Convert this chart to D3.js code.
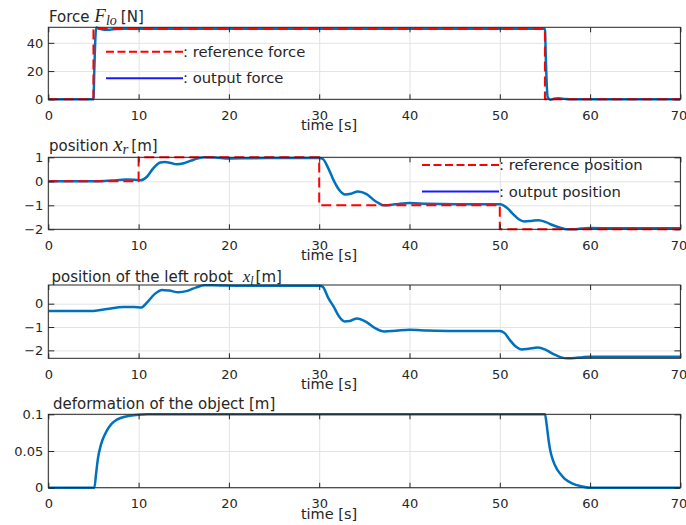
<!DOCTYPE html>
<html>
<head>
<meta charset="utf-8">
<script src="https://cdn.jsdelivr.net/npm/d3@7"></script>
<style>
  body { margin: 0; background: #fff; }
  text { font-family: "DejaVu Sans", sans-serif; fill: #262626; }
  .math { font-family: "Liberation Serif", serif; font-style: italic; }
</style>
</head>
<body>
<svg id="chart" width="686" height="525"></svg>
<script>
const timeTicks = [0, 10, 20, 30, 40, 50, 60, 70];

const forceTicks = [0, 20, 40];
const forceRefTime = [0, 5, 5, 55, 55, 70];
const forceRefValue = [0, 0, 50, 50, 0, 0];
const forceOutTime = [0, 5, 5.1, 5.3, 5.6, 6.2, 6.8, 7.5, 8.5, 55, 55.1, 55.3, 55.6, 56, 56.5, 57.2, 58, 70];
const forceOutValue = [0, 0, 22, 50.8, 50.2, 49.2, 49.3, 49.8, 50, 50, 28, 1.5, -0.3, 0.4, 0.7, 0.3, 0, 0];

const posTicks = [-2, -1, 0, 1];
const posRefTime = [0, 10, 10, 30, 30, 50, 50, 70];
const posRefValue = [0, 0, 1, 1, -1, -1, -2, -2];
const posOutTime = [0, 5.4, 7, 8.6, 9.5, 10.2, 10.9, 11.6, 12.4, 12.9, 13.6, 14.2, 15, 15.8, 16.6, 17.3, 18.5, 20, 22, 24, 30, 30.4, 31, 31.6, 32.2, 32.9, 33.5, 34.3, 35.2, 36.2, 37.2, 38.4, 40, 42, 45, 50, 50.4, 50.9, 51.5, 52.1, 52.7, 53.5, 54.3, 55.1, 55.9, 56.7, 57.4, 58.1, 59, 60, 63, 70];
const posOutValue = [0, 0, 0.03, 0.07, 0.06, 0.04, 0.18, 0.53, 0.78, 0.8, 0.76, 0.71, 0.75, 0.86, 0.96, 1.0, 0.99, 0.95, 0.96, 0.97, 0.97, 0.93, 0.55, 0.04, -0.35, -0.55, -0.52, -0.42, -0.52, -0.82, -1.0, -0.96, -0.9, -0.94, -0.96, -0.96, -1.0, -1.14, -1.38, -1.58, -1.67, -1.65, -1.62, -1.7, -1.83, -1.93, -2.0, -2.0, -1.97, -1.95, -1.96, -1.96];

const leftTicks = [-2, -1, 0];
const leftTime = [0, 5, 6.5, 8.3, 9.5, 10.3, 11, 11.8, 12.6, 13.4, 14.4, 15.4, 16.4, 17.3, 19, 21, 30, 30.4, 31, 31.6, 32.2, 32.8, 33.4, 34.2, 35.2, 36.2, 37.2, 38.5, 40, 42, 45, 50, 50.5, 51.1, 51.8, 52.4, 53.2, 54.2, 55.1, 56, 56.8, 57.5, 58.3, 59.2, 60, 63, 70];
const leftValue = [-0.31, -0.31, -0.23, -0.14, -0.14, -0.16, 0.08, 0.42, 0.59, 0.56, 0.49, 0.55, 0.7, 0.79, 0.78, 0.77, 0.77, 0.72, 0.25, -0.13, -0.55, -0.76, -0.74, -0.63, -0.78, -1.05, -1.19, -1.16, -1.12, -1.15, -1.17, -1.17, -1.25, -1.55, -1.85, -1.96, -1.93, -1.88, -1.98, -2.17, -2.3, -2.34, -2.33, -2.29, -2.27, -2.27, -2.27];

const deformTicks = [0, 0.05, 0.1];
const deformTime = [0, 5.1, 5.3, 5.5, 5.75, 6, 6.5, 7, 7.5, 8, 9, 10, 11, 55, 55.2, 55.4, 55.6, 55.9, 56.3, 56.7, 57.2, 58, 59, 60, 70];
const deformValue = [0, 0, 0.02, 0.04, 0.055, 0.065, 0.078, 0.087, 0.092, 0.095, 0.098, 0.0995, 0.1, 0.1, 0.085, 0.065, 0.05, 0.037, 0.026, 0.019, 0.012, 0.006, 0.002, 0, 0];

const svg = d3.select("#chart");
const left = 48.3, right = 680.4;
const blue = "#0072bd";

const x = d3.scaleLinear().domain([0, 70]).range([left, right]);

function zip(ts, vs) {
  return ts.map((t, i) => [t, vs[i]]);
}

function panel(id, top, bottom, yDomain, yTicks, yFmt) {
  const y = d3.scaleLinear().domain(yDomain).range([bottom, top]);
  const g = svg.append("g");
  const h = bottom - top;

  // grid
  g.append("g")
    .attr("transform", `translate(0,${bottom})`)
    .call(d3.axisBottom(x).tickValues(timeTicks).tickSize(-h).tickFormat(""))
    .call(a => a.select(".domain").remove())
    .call(a => a.selectAll("line").attr("stroke", "#e3e3e3"));
  g.append("g")
    .attr("transform", `translate(${left},0)`)
    .call(d3.axisLeft(y).tickValues(yTicks).tickSize(-(right - left)).tickFormat(""))
    .call(a => a.select(".domain").remove())
    .call(a => a.selectAll("line").attr("stroke", "#e3e3e3"));

  svg.append("clipPath").attr("id", id)
    .append("rect").attr("x", left).attr("y", top - 2)
    .attr("width", right - left).attr("height", h + 4);

  const plot = g.append("g").attr("clip-path", `url(#${id})`);

  // ticks + box
  const axes = g.append("g").attr("class", "axes");
  axes.append("g").attr("transform", `translate(0,${bottom})`)
    .call(d3.axisBottom(x).tickValues(timeTicks).tickSize(-5).tickPadding(11))
    .call(a => a.select(".domain").remove())
    .call(a => a.selectAll("text").filter(d => d === 70).attr("dx", -2));
  axes.append("g").attr("transform", `translate(0,${top})`)
    .call(d3.axisTop(x).tickValues(timeTicks).tickSize(-5).tickFormat(""))
    .call(a => a.select(".domain").remove());
  axes.append("g").attr("transform", `translate(${left},0)`)
    .call(d3.axisLeft(y).tickValues(yTicks).tickSize(-6).tickPadding(5).tickFormat(yFmt))
    .call(a => a.select(".domain").remove());
  axes.append("g").attr("transform", `translate(${right},0)`)
    .call(d3.axisRight(y).tickValues(yTicks).tickSize(-6).tickFormat(""))
    .call(a => a.select(".domain").remove());
  axes.selectAll("line").attr("stroke", "#262626");
  axes.selectAll("text").attr("font-size", 13).attr("font-family", "DejaVu Sans").attr("fill", "#262626");
  axes.append("rect")
    .attr("x", left).attr("y", top)
    .attr("width", right - left).attr("height", h)
    .attr("fill", "none").attr("stroke", "#262626").attr("stroke-width", 1);

  g.append("text")
    .attr("x", 329).attr("y", bottom + 31)
    .attr("text-anchor", "middle").attr("font-size", 14.5)
    .text("time [s]");

  return { g, plot, y };
}

function drawLine(p, pts, color, width, dash, curve) {
  const line = d3.line().x(d => x(d[0])).y(d => p.y(d[1])).curve(curve);
  p.plot.append("path")
    .attr("d", line(pts))
    .attr("fill", "none")
    .attr("stroke", color)
    .attr("stroke-width", width)
    .attr("stroke-dasharray", dash)
    .attr("stroke-linejoin", "round");
}

function legend(p, x0, y0, items) {
  items.forEach((it, i) => {
    const yy = y0 + i * 26.6;
    p.g.append("line")
      .attr("x1", x0).attr("x2", x0 + 77).attr("y1", yy).attr("y2", yy)
      .attr("stroke", it.color).attr("stroke-width", 2)
      .attr("stroke-dasharray", it.dash);
    p.g.append("text")
      .attr("x", x0 + 77).attr("y", yy + 5)
      .attr("font-size", 14.8)
      .text(it.label);
  });
}

const fmtInt = d3.format("d");

// Panel 1: force
const p1 = panel("c1", 27.3, 99.3, [0, 51], forceTicks, fmtInt);
drawLine(p1, zip(forceOutTime, forceOutValue), blue, 2.5, null, d3.curveMonotoneX);
drawLine(p1, zip(forceRefTime, forceRefValue), "#ff0000", 2, "10,5", d3.curveLinear);
legend(p1, 106, 51.7, [
  { color: "#ff0000", dash: "8,3.5", label: ": reference force" },
  { color: "#1a1aff", dash: null, label: ": output force" }
]);
const t1 = p1.g.append("text").attr("x", 49).attr("y", 22).attr("font-size", 15);
t1.append("tspan").text("Force ");
t1.append("tspan").attr("class", "math").attr("font-size", 19).text("F");
t1.append("tspan").attr("class", "math").attr("font-size", 14).attr("dy", 3).text("lo");
t1.append("tspan").attr("dy", -3).attr("dx", 4).text("[N]");

// Panel 2: position x_r
const p2 = panel("c2", 157.3, 229.3, [-2, 1], posTicks, fmtInt);
drawLine(p2, zip(posOutTime, posOutValue), blue, 2.5, null, d3.curveMonotoneX);
drawLine(p2, zip(posRefTime, posRefValue), "#ff0000", 2, "10,5", d3.curveLinear);
legend(p2, 422, 165, [
  { color: "#ff0000", dash: "8,3.5", label: ": reference position" },
  { color: "#1a1aff", dash: null, label: ": output position" }
]);
const t2 = p2.g.append("text").attr("x", 49).attr("y", 151).attr("font-size", 15);
t2.append("tspan").text("position ");
t2.append("tspan").attr("class", "math").attr("font-size", 21).text("x");
t2.append("tspan").attr("class", "math").attr("font-size", 15).attr("dy", 3).text("r");
t2.append("tspan").attr("dy", -3).attr("dx", 3).text("[m]");

// Panel 3: left robot
const p3 = panel("c3", 285, 358.3, [-2.34, 0.8], leftTicks, fmtInt);
drawLine(p3, zip(leftTime, leftValue), blue, 2.5, null, d3.curveMonotoneX);
const t3 = p3.g.append("text").attr("x", 51.5).attr("y", 282).attr("font-size", 15);
t3.append("tspan").text("position of the left robot ");
t3.append("tspan").attr("class", "math").attr("font-size", 17).attr("dx", 5).text("x");
t3.append("tspan").attr("class", "math").attr("font-size", 12).attr("dy", 3).text("l");
t3.append("tspan").attr("dy", -3).attr("dx", 2).text("[m]");

// Panel 4: deformation
const p4 = panel("c4", 414.3, 487.7, [0, 0.1], deformTicks, d => d === 0 ? "0" : String(d));
drawLine(p4, zip(deformTime, deformValue), blue, 2.5, null, d3.curveMonotoneX);
p4.g.append("text").attr("x", 53).attr("y", 409).attr("font-size", 15)
  .text("deformation of the object [m]");
</script>
</body>
</html>
